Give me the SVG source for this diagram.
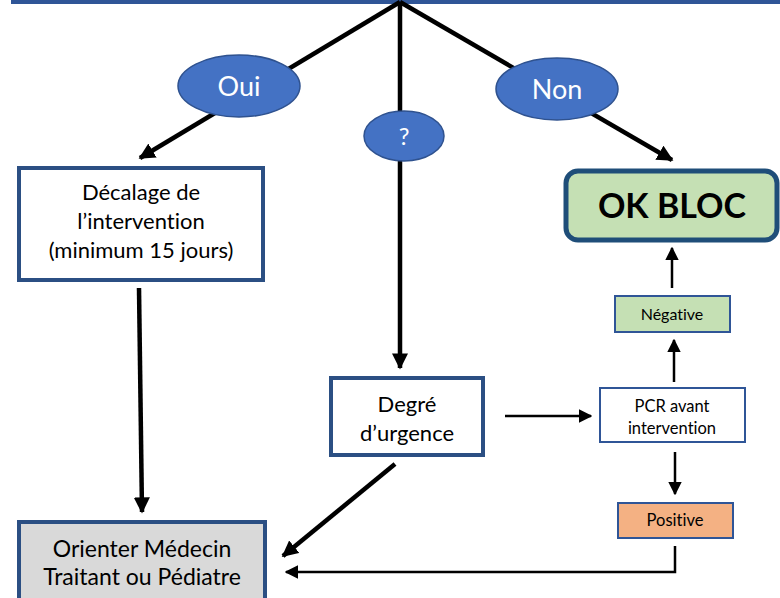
<svg xmlns="http://www.w3.org/2000/svg" width="780" height="598" viewBox="0 0 780 598">
<defs>
<style>
text{font-family:Lato,"Open Sans","Liberation Sans",sans-serif;text-anchor:middle;fill:#000;font-variant-ligatures:none;font-feature-settings:"liga" 0,"dlig" 0}
.box{stroke:#2B4F83;stroke-width:4;fill:#fff}
.thin{stroke:#2F5597;stroke-width:2;fill:#fff}
.ell{fill:#4472C4;stroke:#2F528F;stroke-width:1.5}
.lbl{fill:#fff;font-size:27px}
.thick{stroke:#000;stroke-width:4.5;fill:none}
.med{stroke:#000;stroke-width:2.5;fill:none}
</style>
<marker id="ah" viewBox="0 0 10 10" refX="9" refY="5" markerWidth="3.6" markerHeight="3.6" orient="auto" markerUnits="strokeWidth"><path d="M0,0L10,5L0,10z" fill="#000"/></marker>
<marker id="ah2" viewBox="0 0 10 10" refX="9" refY="5" markerWidth="5.5" markerHeight="5.5" orient="auto" markerUnits="strokeWidth"><path d="M0,0L10,5L0,10z" fill="#000"/></marker>
</defs>
<g id="top"><rect x="13" y="-30" width="790" height="32" fill="#fff" stroke="#2F5597" stroke-width="4"/></g>
<g id="connectors">
<line class="thick" x1="400" y1="2" x2="140" y2="158" marker-end="url(#ah)"/>
<line class="thick" x1="400" y1="2" x2="672" y2="160" marker-end="url(#ah)"/>
<line class="thick" x1="400" y1="2" x2="400" y2="368" marker-end="url(#ah)"/>
<line class="thick" x1="139" y1="288" x2="142" y2="512" marker-end="url(#ah)"/>
<line class="thick" x1="395" y1="464" x2="283" y2="556" marker-end="url(#ah)"/>
<line class="med" x1="505" y1="416" x2="591" y2="416" marker-end="url(#ah2)"/>
<line class="med" x1="674" y1="382" x2="674" y2="340" marker-end="url(#ah2)"/>
<line class="med" x1="672" y1="288" x2="672" y2="248" marker-end="url(#ah2)"/>
<line class="med" x1="675" y1="452" x2="675" y2="494" marker-end="url(#ah2)"/>
<path class="med" d="M675,546V572H286" marker-end="url(#ah2)"/>
</g>
<g id="oui"><ellipse class="ell" cx="239" cy="86" rx="61" ry="31"/><text class="lbl" x="239" y="96">Oui</text></g>
<g id="q"><ellipse class="ell" cx="404" cy="136" rx="40" ry="25"/><text class="lbl" x="404" y="145" style="font-size:24px">?</text></g>
<g id="non"><ellipse class="ell" cx="557" cy="89" rx="61" ry="31"/><text class="lbl" x="557" y="99">Non</text></g>
<g id="decalage"><rect class="box" x="19" y="168" width="244" height="112"/>
<text x="141" y="200" font-size="22">Décalage de</text>
<text x="141" y="229" font-size="22">l’intervention</text>
<text x="141" y="258" font-size="22">(minimum 15 jours)</text></g>
<g id="okbloc"><rect x="566" y="171" width="211" height="69" rx="12" fill="#C5E0B4" stroke="#1F4E79" stroke-width="5"/>
<text x="672" y="218" font-size="34" font-weight="bold">OK BLOC</text></g>
<g id="negative"><rect x="615" y="296" width="115" height="36" fill="#C5E0B4" stroke="#2F5597" stroke-width="2"/>
<text x="672" y="320" font-size="16">Négative</text></g>
<g id="pcr"><rect class="thin" x="600" y="388" width="145" height="54"/>
<text x="672" y="412" font-size="16.5">PCR avant</text>
<text x="672" y="434" font-size="16.5">intervention</text></g>
<g id="positive"><rect x="618" y="503" width="115" height="35" fill="#F4B183" stroke="#2F5597" stroke-width="2"/>
<text x="675" y="526" font-size="16.5">Positive</text></g>
<g id="degre"><rect class="box" x="331" y="378" width="152" height="77"/>
<text x="407" y="412" font-size="22">Degré</text>
<text x="407" y="441" font-size="22">d’urgence</text></g>
<g id="orienter"><rect class="box" x="19" y="522" width="246" height="80" style="fill:#D9D9D9"/>
<text x="142" y="557" font-size="23">Orienter Médecin</text>
<text x="142" y="585" font-size="23">Traitant ou Pédiatre</text></g>
</svg>
